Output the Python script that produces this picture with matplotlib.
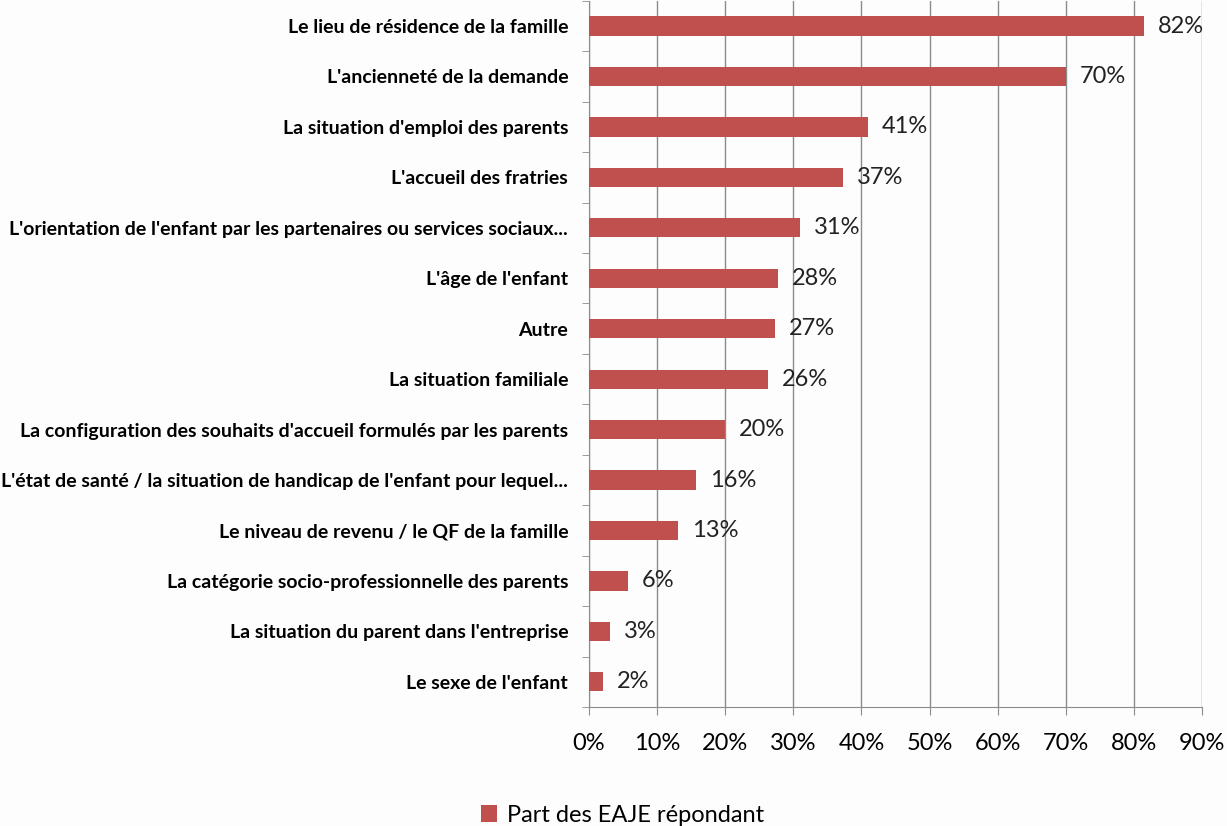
import matplotlib.pyplot as plt
import matplotlib.ticker as mticker

categories = [
    "Le lieu de résidence de la famille",
    "L'ancienneté de la demande",
    "La situation d'emploi des parents",
    "L'accueil des fratries",
    "L'orientation de l'enfant par les partenaires ou services sociaux...",
    "L'âge de l'enfant",
    "Autre",
    "La situation familiale",
    "La configuration des souhaits d'accueil formulés par les parents",
    "L'état de santé / la situation de handicap de l'enfant pour lequel...",
    "Le niveau de revenu / le QF de la famille",
    "La catégorie socio-professionnelle des parents",
    "La situation du parent dans l'entreprise",
    "Le sexe de l'enfant",
]
values = [81.5, 70.0, 41.0, 37.3, 31.0, 27.8, 27.3, 26.3, 20.0, 15.7, 13.1, 5.7, 3.1, 2.1]
labels = ["82%", "70%", "41%", "37%", "31%", "28%", "27%", "26%", "20%", "16%", "13%", "6%", "3%", "2%"]
series_name = "Part des EAJE répondant"

red = "#C0504D"
grid = "#8C8C8C"
font = "Lato"

fig = plt.figure(figsize=(12.27, 8.26), dpi=100, facecolor="#FDFDFD")
ax = fig.add_axes([0.480, 0.144, 0.4996, 0.855])
ax.set_facecolor("#FDFDFD")

n = len(categories)
ypos = list(range(n))
bars = ax.barh(ypos, values, height=0.38, color=red, label=series_name, zorder=3)

for b, lab in zip(bars, labels):
    ax.text(b.get_width() + 2.0, b.get_y() + b.get_height() / 2, lab,
            va="center", ha="left", fontsize=17, family=font,
            color="#222222", zorder=4)

ax.set_ylim(n - 0.5, -0.5)
ax.set_xlim(0, 90)
ax.xaxis.set_major_locator(mticker.MultipleLocator(10))
ax.xaxis.set_major_formatter(mticker.FuncFormatter(lambda v, p: f"{v:.0f}%"))
ax.grid(axis="x", color=grid, linewidth=1.0, zorder=0)

ax.set_yticks(ypos)
ax.set_yticklabels(categories, fontsize=14, family=font, fontweight="bold")
ax.yaxis.set_minor_locator(mticker.FixedLocator([i + 0.5 for i in range(-1, n)]))
ax.tick_params(axis="y", which="major", length=0, pad=15)
ax.tick_params(axis="y", which="minor", length=5, color=grid, direction="out")
ax.tick_params(axis="x", length=6, color=grid, direction="out", pad=13,
               labelsize=17)
for t in ax.get_xticklabels():
    t.set_family(font)

for s in ["top", "right"]:
    ax.spines[s].set_visible(False)
ax.spines["left"].set_color(grid)
ax.spines["bottom"].set_color(grid)

fig.legend(loc="center", bbox_to_anchor=(0.507, 0.013), frameon=False,
           prop={"family": font, "size": 17}, handlelength=0.7,
           handleheight=0.7, handletextpad=0.4)

fig.savefig("out.png", dpi=100, facecolor=fig.get_facecolor())
